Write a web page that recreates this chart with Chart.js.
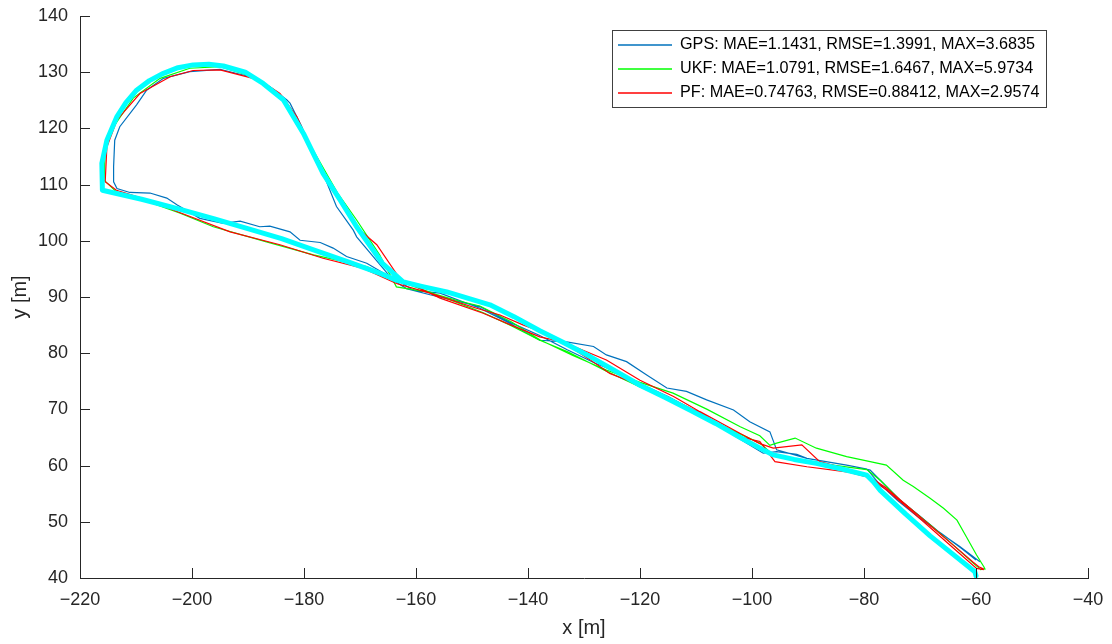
<!DOCTYPE html>
<html lang="en">
<head>
<meta charset="utf-8">
<title>Trajectory error</title>
<script src="https://cdn.jsdelivr.net/npm/chart.js@4/dist/chart.umd.min.js"></script>
<style>
    html, body { margin: 0; padding: 0; background: #fff; }
    #chart { display: block; }
</style>
</head>
<body>
<canvas id="chart" width="1112" height="644"></canvas>
<script>
"use strict";

// legend texts
const labels = [
    'GPS: MAE=1.1431, RMSE=1.3991, MAX=3.6835',
    'UKF: MAE=1.0791, RMSE=1.6467, MAX=5.9734',
    'PF: MAE=0.74763, RMSE=0.88412, MAX=2.9574'
];

// ground truth (cyan)
const truthX = [-60.0, -60.2, -64.2, -68.2, -72.6, -77.1, -78.3, -79.5, -84.0, -88.5, -92.5, -96.2, -98.0, -102.1,
    -106.5, -111.1, -115.5, -120.0, -124.5, -128.9, -133.5, -137.9, -142.5, -146.8, -150.5, -154.5, -159.0, -163.5,
    -166.4, -172.0, -178.3, -184.0, -190.2, -196.0, -202.1, -209.0, -216.0, -216.1, -215.2, -213.4, -211.8, -209.9,
    -207.6, -205.1, -202.5, -199.8, -197.0, -194.4, -190.5, -187.3, -183.7, -180.1, -176.6, -173.5, -170.6, -166.0,
    -162.3];
const truthY = [40.4, 41.1, 44.3, 47.5, 51.4, 55.6, 57.1, 58.3, 59.4, 60.4, 61.1, 61.9, 62.8, 65.0,
    67.5, 69.9, 72.1, 74.3, 76.9, 79.4, 81.8, 84.0, 86.5, 88.6, 89.7, 90.9, 91.9, 93.0,
    94.2, 96.2, 98.4, 100.4, 102.2, 103.9, 105.6, 107.4, 109.0, 113.8, 117.9, 122.1, 124.6, 126.8,
    128.5, 129.8, 130.8, 131.3, 131.4, 131.1, 130.0, 128.0, 125.1, 119.1, 112.0, 107.2, 102.5, 96.0,
    92.7];

// GPS
const gpsX = [-59.3, -62.9, -66.4, -70.0, -73.6, -77.1, -78.9, -83.1, -90.2, -95.6, -96.8, -100.4, -103.3, -108.1,
    -111.7, -115.2, -118.8, -122.4, -126.0, -128.3, -133.1, -137.9, -143.8, -148.6, -155.7, -160.5, -162.9, -165.2,
    -168.8, -172.4, -174.8, -177.1, -180.7, -182.5, -186.1, -187.9, -191.4, -194.4, -198.6, -202.7, -204.5, -207.5,
    -211.1, -213.4, -214.0, -214.0, -213.8, -212.9, -209.9, -208.1, -205.1, -200.4, -195.0, -189.6, -186.1, -183.1,
    -182.5, -180.5, -178.3, -176.6, -174.2, -171.2, -170.6, -166.4, -164.1, -161.7, -157.5, -148.6,
    -143.0, -138.0, -133.0, -128.0, -124.0, -120.0, -115.0, -110.0, -106.0, -103.3, -98.0, -95.6, -92.0, -90.2,
    -86.0, -83.1, -79.5, -77.5, -74.0, -70.0, -66.0, -62.5, -60.0];
const gpsY = [42.9, 45.6, 48.0, 51.0, 53.9, 57.4, 59.2, 60.1, 61.3, 62.8, 66.0, 67.8, 69.9, 71.7,
    73.2, 73.8, 76.1, 78.5, 79.7, 81.2, 82.0, 82.3, 85.6, 88.0, 90.7, 91.2, 92.7, 93.9,
    96.0, 97.2, 98.7, 99.7, 100.1, 101.6, 102.6, 102.5, 103.5, 103.1, 104.0, 106.4, 107.6, 108.5,
    108.6, 109.3, 110.5, 113.2, 117.9, 120.3, 124.2, 126.8, 128.9, 130.1, 130.5, 129.2, 127.4, 125.1,
    124.5, 120.5, 115.3, 112.0, 106.1, 101.9, 100.7, 95.7, 93.0, 91.5, 90.4, 88.3,
    85.4, 83.2, 80.6, 78.2, 76.6, 74.6, 72.3, 69.6, 67.4, 65.4, 62.2, 62.5, 62.0, 61.3,
    60.6, 60.1, 59.4, 57.0, 53.8, 50.6, 47.8, 45.2, 43.2];

// UKF
const ukfX = [-59.3, -60.0, -64.0, -68.0, -73.6, -77.0, -79.5, -87.9, -96.2, -98.6, -102.1, -109.3, -114.1, -120.0,
    -126.0, -133.0, -137.9, -143.0, -148.0, -155.7, -163.5, -168.8, -178.3, -186.7, -196.2, -202.1, -208.0, -213.5,
    -215.7, -215.5, -214.0, -210.5, -205.7, -200.4, -195.0, -189.1, -185.0, -182.0, -178.0, -174.0, -170.6, -166.5,
    -163.5, -158.0, -152.0, -148.6, -143.0, -137.9, -132.0, -126.0, -120.0, -114.1, -108.0, -102.1, -98.6, -96.8,
    -95.6, -92.3, -88.5, -83.1, -78.9, -76.0, -73.0, -71.2, -68.2, -65.8, -63.4, -61.7, -59.9, -58.6, -58.4, -59.3];
const ukfY = [41.7, 42.2, 45.8, 49.3, 53.9, 57.3, 59.3, 60.4, 61.9, 64.0, 65.6, 69.0, 71.4, 74.0,
    76.8, 80.3, 82.3, 84.9, 87.2, 90.2, 93.0, 95.4, 97.5, 99.8, 102.5, 104.9, 107.0, 108.7,
    110.8, 116.2, 120.3, 125.4, 128.9, 130.7, 131.0, 129.2, 126.4, 122.5, 115.5, 108.5, 103.7, 97.5,
    91.8, 90.9, 89.2, 88.4, 85.6, 82.4, 79.6, 77.0, 74.8, 72.9, 70.0, 66.9, 65.3, 63.6,
    64.0, 64.9, 63.1, 61.6, 60.7, 60.1, 57.4, 56.3, 54.2, 52.4, 50.3, 47.3, 44.1, 42.0, 41.6, 41.5];

// PF
const pfX = [-58.6, -59.9, -64.0, -68.0, -72.0, -76.0, -79.5, -83.1, -90.2, -95.9, -98.6, -102.1, -109.3, -114.0,
    -120.0, -125.4, -129.0, -133.1, -137.0, -140.8, -145.0, -149.2, -157.5, -163.5, -169.4, -176.6, -184.3, -193.2,
    -202.1, -208.0, -213.5, -215.5, -215.2, -213.4, -209.3, -203.9, -199.8, -195.0, -189.1, -186.1, -184.3, -181.3,
    -177.1, -174.0, -170.0, -167.0, -162.3, -160.5, -155.7, -148.0, -143.0, -137.9, -133.7, -126.0, -120.0, -114.0,
    -109.3, -102.1, -98.6, -96.2, -91.1, -87.9, -83.0, -79.5, -76.0, -72.0, -68.0, -64.0, -60.5, -59.5, -58.6];
const pfY = [41.5, 41.7, 45.3, 48.8, 52.3, 55.7, 58.0, 58.9, 59.8, 60.7, 64.3, 65.1, 69.4, 71.6,
    74.3, 76.4, 78.9, 81.5, 83.6, 85.0, 86.8, 88.0, 90.7, 92.4, 95.1, 96.9, 99.3, 101.6,
    105.0, 107.3, 109.0, 110.5, 116.7, 121.5, 126.2, 129.2, 130.3, 130.4, 128.9, 127.4, 126.2, 122.1,
    113.2, 108.0, 101.9, 99.3, 92.4, 92.1, 89.8, 87.1, 85.0, 82.9, 82.0, 78.8, 75.2, 72.3,
    69.6, 65.7, 63.9, 63.1, 63.7, 60.7, 59.4, 58.3, 56.0, 52.6, 49.2, 45.8, 42.8, 42.0, 41.6];

const FONT = '"Liberation Sans", Arial, Helvetica, sans-serif';
const AXIS_COLOR = '#262626';

/**
 * Makes {x, y} points from two arrays
 * @param {Array<number>} xs
 * @param {Array<number>} ys
 * @returns {Array<Object>}
 */
function toPoints(xs, ys) {
    return xs.map((x, i) => ({ x: x, y: ys[i] }));
}

/**
 * Tick label with a real minus sign, like in matlab
 * @param {number} value
 * @returns {string}
 */
function tickLabel(value) {
    return String(value).replace('-', '\u2212');
}

/**
 * Ticks that point into the plot
 */
const inwardTicks = {
    id: 'inwardTicks',
    afterDatasetsDraw(chart) {
        const { ctx, chartArea, scales } = chart;
        ctx.save();
        ctx.strokeStyle = AXIS_COLOR;
        ctx.lineWidth = 1;
        ctx.beginPath();
        scales.x.ticks.forEach(t => {
            const px = Math.round(scales.x.getPixelForValue(t.value)) + 0.5;
            ctx.moveTo(px, chartArea.bottom);
            ctx.lineTo(px, chartArea.bottom - 10);
        });
        scales.y.ticks.forEach(t => {
            const py = Math.round(scales.y.getPixelForValue(t.value)) + 0.5;
            ctx.moveTo(chartArea.left, py);
            ctx.lineTo(chartArea.left + 10, py);
        });
        ctx.stroke();
        ctx.restore();
    }
};

/**
 * Legend box in the upper right corner of the plot
 */
const boxLegend = {
    id: 'boxLegend',
    afterDraw(chart) {
        const { ctx, chartArea } = chart;
        const entries = chart.data.datasets.filter(d => d.label);
        const w = 434;
        const rowH = 24;
        const h = entries.length * rowH + 5;
        const x0 = chartArea.right - 42 - w;
        const y0 = chartArea.top + 14;
        ctx.save();
        ctx.fillStyle = '#fff';
        ctx.fillRect(x0, y0, w, h);
        ctx.strokeStyle = '#404040';
        ctx.lineWidth = 1;
        ctx.strokeRect(x0 + 0.5, y0 + 0.5, w, h);
        ctx.font = '16.2px ' + FONT;
        ctx.textBaseline = 'middle';
        entries.forEach((d, i) => {
            const cy = y0 + 15 + i * rowH;
            ctx.strokeStyle = d.borderColor;
            ctx.lineWidth = 1.3;
            ctx.beginPath();
            ctx.moveTo(x0 + 6, cy);
            ctx.lineTo(x0 + 60, cy);
            ctx.stroke();
            ctx.fillStyle = '#000';
            ctx.fillText(d.label, x0 + 68, cy);
        });
        ctx.restore();
    }
};

const lineStyle = {
    showLine: true,
    fill: false,
    pointRadius: 0,
    pointHoverRadius: 0,
    tension: 0,
    borderWidth: 1.2
};

const ctx = document.getElementById('chart').getContext('2d');
new Chart(ctx, {
    type: 'scatter',
    data: {
        datasets: [
            { ...lineStyle, label: labels[0], data: toPoints(gpsX, gpsY), borderColor: '#0072BD', order: 3 },
            { ...lineStyle, label: labels[1], data: toPoints(ukfX, ukfY), borderColor: '#00FF00', order: 2 },
            { ...lineStyle, label: labels[2], data: toPoints(pfX, pfY), borderColor: '#FF0000', order: 1 },
            { ...lineStyle, label: '', data: toPoints(truthX, truthY), borderColor: '#00FFFF', borderWidth: 5,
                borderJoinStyle: 'round', borderCapStyle: 'round', order: 0 }
        ]
    },
    options: {
        responsive: false,
        animation: false,
        devicePixelRatio: 1,
        layout: { padding: { top: 16, right: 24, left: 0, bottom: 0 } },
        plugins: {
            legend: { display: false },
            tooltip: { enabled: false }
        },
        scales: {
            x: {
                type: 'linear',
                min: -220,
                max: -40,
                ticks: { stepSize: 20, padding: 11, color: AXIS_COLOR, font: { family: FONT, size: 18 },
                    callback: tickLabel },
                grid: { display: false, drawTicks: false },
                border: { display: true, color: AXIS_COLOR, width: 1 },
                title: { display: true, text: 'x [m]', color: AXIS_COLOR, font: { family: FONT, size: 20 },
                    padding: { top: 4, bottom: 4 } },
                afterFit(scale) {
                    scale.height = 66;
                    scale.paddingLeft = 0;
                    scale.paddingRight = 0;
                }
            },
            y: {
                type: 'linear',
                min: 40,
                max: 140,
                ticks: { stepSize: 10, padding: 12, color: AXIS_COLOR, font: { family: FONT, size: 18 },
                    callback: tickLabel },
                grid: { display: false, drawTicks: false },
                border: { display: true, color: AXIS_COLOR, width: 1 },
                title: { display: true, text: 'y [m]', color: AXIS_COLOR, font: { family: FONT, size: 20 },
                    padding: { top: 8, bottom: 4 } },
                afterFit(scale) {
                    scale.width = 80;
                    scale.paddingTop = 0;
                    scale.paddingBottom = 0;
                }
            }
        }
    },
    plugins: [inwardTicks, boxLegend]
});
</script>
</body>
</html>
